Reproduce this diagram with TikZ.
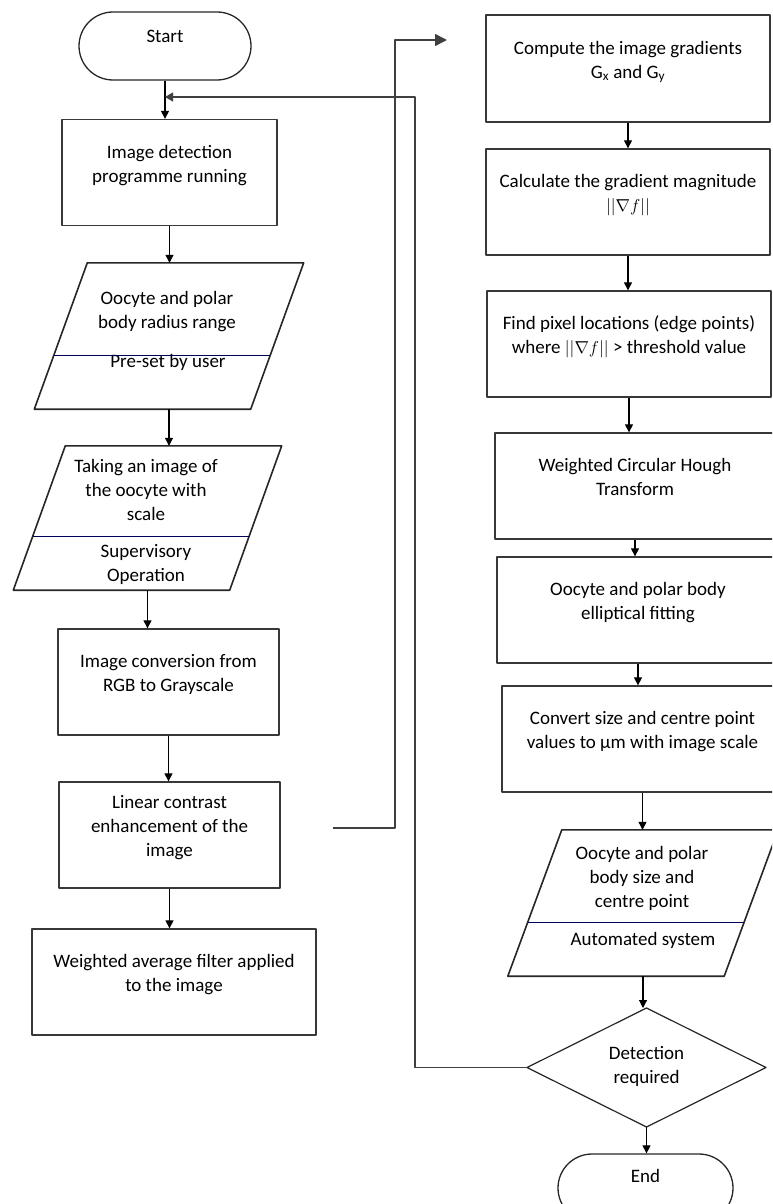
\documentclass[tikz,border=0pt]{standalone}
\usepackage{fontspec}
\setmainfont{Carlito}
\usetikzlibrary{arrows.meta,calc}
% text block pushed up inside its box (extra depth below)
\newcommand\lifted[2][14pt]{\raisebox{0pt}[\height][\dimexpr\depth+#1\relax]{\begin{tabular}{@{}c@{}}#2\end{tabular}}}
\begin{document}
\begin{tikzpicture}[x=1pt,y=-1pt,line join=round,font=\fontsize{19}{24}\selectfont,
	proc/.style={draw=black!78,line width=1.3pt,rectangle,minimum height=106pt,inner sep=0pt},
	term/.style={draw=black!85,line width=1.3pt,rectangle,rounded corners=34pt,minimum width=172pt,minimum height=68pt,inner sep=0pt},
	io/.style={rectangle,minimum width=216pt,minimum height=146pt,inner sep=0pt},
	iobox/.style={draw=black!85,line width=1.6pt},
	txt/.style={align=center,inner sep=0pt},
	arr/.style={line width=1.1pt,-{Triangle[length=8pt,width=8pt]}},
	divider/.style={draw=blue!35!black,line width=0.9pt}]
	\clip (0,0) rectangle (772,1204);
	% left column
	\node[term] (st) at (165,46) {\lifted[16pt]{Start}};
	\node[proc,minimum width=215pt] (b1) at (169.5,172.5) {\lifted{Image detection\\programme running}};
	\node[io] (in1) at (169,336) {};
	\node[txt] (in1top) at (167,311.5) {Oocyte and polar\\body radius range};
	\node[txt] (in1sub) at (168,362) {Pre-set by user};
	\node[io,minimum height=144pt] (in2) at (147.5,518) {};
	\node[txt] (in2top) at (146,490) {Taking an image of\\the oocyte with\\scale};
	\node[txt] (in2sub) at (146,564.5) {Supervisory\\Operation};
	\node[proc,minimum width=221pt] (b2) at (168.5,682) {\lifted{Image conversion from\\RGB to Grayscale}};
	\node[proc,minimum width=221pt] (b3) at (169.5,835) {\lifted{Linear contrast\\enhancement of the\\image}};
	\node[proc,minimum width=284pt] (b4) at (174,982) {\lifted{Weighted average filter applied\\to the image}};
	% right column
	\node[proc,minimum width=284pt,minimum height=107pt] (r1) at (628,68.5) {\lifted{Compute the image gradients\\G\textsubscript{x} and G\textsubscript{y}}};
	\node[proc,minimum width=284pt] (r2) at (628,202) {\lifted{Calculate the gradient magnitude\\$||\nabla f||$}};
	\node[proc,minimum width=284pt] (r3) at (629,344) {\lifted{Find pixel locations (edge points)\\where $||\nabla f||$ > threshold value}};
	\node[proc,minimum width=280pt] (r4) at (635,486) {\lifted{Weighted Circular Hough\\Transform}};
	\node[proc,minimum width=282pt] (r5) at (638,610) {\lifted{Oocyte and polar body\\elliptical fitting}};
	\node[proc,minimum width=281pt] (r6) at (642.5,739) {\lifted{Convert size and centre point\\values to µm with image scale}};
	\node[io] (in3) at (643,903) {};
	\node[txt] (in3top) at (642,878) {Oocyte and polar\\body size and\\centre point};
	\node[txt] (in3sub) at (643,940) {Automated system};
	\path (646.5,1008) coordinate (dt) (766,1067.5) coordinate (dr) (646.5,1127) coordinate (db) (527,1067.5) coordinate (dl);
	\draw[iobox,line width=1.2pt] (dt) -- (dr) -- (db) -- (dl) -- cycle;
	\node[txt] (dec) at (646.5,1066) {Detection\\required};
	\node[term,minimum width=175pt] (en) at (645.5,1188) {\lifted[20pt]{End}};
	% input/output boxes, slanted, with their divider
	\foreach \p/\s in {in1/26.5,in2/26,in3/27}{
		\draw[iobox] ([xshift=\s pt]\p.north west) -- ([xshift=\s pt]\p.north east) -- ([xshift=-\s pt]\p.south east) -- ([xshift=-\s pt]\p.south west) -- cycle;
		\draw[divider] ($([xshift=\s pt]\p.north west)!.63!([xshift=-\s pt]\p.south west)$) -- ($([xshift=\s pt]\p.north east)!.63!([xshift=-\s pt]\p.south east)$);
	}
	% flow
	\foreach \a/\b in {st/b1,b1/in1,in1/in2,in2/b2,b2/b3,b3/b4,r1/r2,r2/r3,r3/r4,r4/r5,r5/r6,r6/in3}{
		\draw[arr] (\a.south) -- (\a.south |- \b.north);
	}
	\draw[arr] (in3.south) -- (in3.south |- dt);
	\draw[arr] (db) -- (db |- en.north);
	\coordinate (lcout) at (333,828);
	\coordinate (gin) at (447,40);
	\draw[line width=1.6pt,draw=black!75,-{Triangle[length=12pt,width=12pt]}] (lcout) -- ++(62,0) |- (gin);
	\coordinate (loop) at (415,97);
	\draw[line width=1.2pt,draw=black!75,-{Triangle[length=8pt,width=9pt]}] (dl) -| (loop) -- (st.south |- loop);
\end{tikzpicture}
\end{document}
